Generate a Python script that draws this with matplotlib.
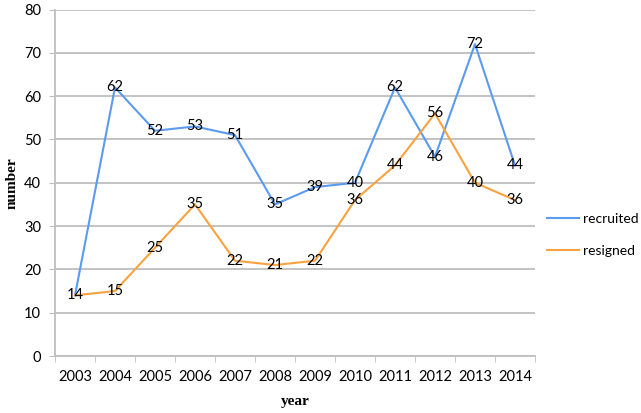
import numpy as np
import matplotlib
matplotlib.use('Agg')
import matplotlib.pyplot as plt

years = ['2003', '2004', '2005', '2006', '2007', '2008', '2009', '2010', '2011', '2012', '2013', '2014']
recruited = [14, 62, 52, 53, 51, 35, 39, 40, 62, 46, 72, 44]
resigned = [14, 15, 25, 35, 22, 21, 22, 36, 44, 56, 40, 36]

blue = '#5A9BF0'
orange = '#F9A23F'
grid = '#BEBEBE'
font = 'Lato'

fig = plt.figure(figsize=(6.41, 4.13), dpi=100)
ax = fig.add_axes([55/641, 57/413, 480/641, 346.5/413])

x = np.arange(len(years))
ax.plot(x, recruited, color=blue, lw=1.5, label='recruited')
ax.plot(x, resigned, color=orange, lw=1.5, label='resigned')

for i in range(len(years)):
    ax.text(x[i], recruited[i], str(recruited[i]), ha='center', va='center',
            fontsize=10.5, family=font)
    if i == 0:
        continue
    ax.text(x[i], resigned[i], str(resigned[i]), ha='center', va='center',
            fontsize=10.5, family=font)

ax.set_xlim(-0.5, len(years) - 0.5)
ax.set_ylim(0, 80)
ax.set_yticks(range(0, 81, 10))
ax.set_xticks(x)
ax.set_xticklabels(years, family=font, fontsize=10.5)
ax.set_xticks(np.arange(-0.5, len(years)), minor=True)
ax.tick_params(axis='x', which='major', length=0, pad=10)
ax.tick_params(axis='x', which='minor', length=4, color=grid, direction='out')
ax.tick_params(axis='y', length=4, color=grid, pad=6)
for lab in ax.get_yticklabels():
    lab.set_family(font)
    lab.set_fontsize(10.5)

ax.grid(axis='y', color=grid, lw=1.3)
ax.set_axisbelow(True)
for s in ['top', 'right']:
    ax.spines[s].set_visible(False)
ax.spines['left'].set_color(grid)
ax.spines['bottom'].set_color(grid)
ax.spines['left'].set_linewidth(1.3)
ax.spines['bottom'].set_linewidth(1.3)

ax.set_xlabel('year', family='Liberation Serif', fontweight='bold', fontsize=11, labelpad=8)
ax.set_ylabel('number', family='Liberation Serif', fontweight='bold', fontsize=11, labelpad=4)

leg = ax.legend(loc='center left', bbox_to_anchor=(1.025, 0.349), frameon=False,
                prop={'family': font, 'size': 10}, handlelength=2.3,
                labelspacing=1.45, handletextpad=0.3, borderpad=0, borderaxespad=0)

fig.savefig('out.png', dpi=100)
